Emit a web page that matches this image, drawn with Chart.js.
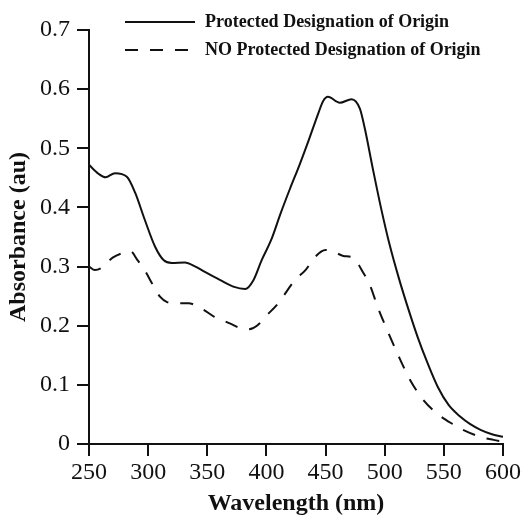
<!DOCTYPE html>
<html>
<head>
<meta charset="utf-8">
<script src="https://cdn.jsdelivr.net/npm/chart.js@4"></script>
<style>
  html, body { margin: 0; padding: 0; background: #fff; }
  #wrap { width: 523px; height: 516px; }
</style>
</head>
<body>
<div id="wrap"><canvas id="c" width="523" height="516"></canvas></div>
<script>
// legend labels
var seriesNames = ['Protected Designation of Origin', 'NO Protected Designation of Origin'];

// solid curve (PDO): wavelength nm / absorbance
var pdoNm  = [250, 258, 264, 272, 282, 289, 297, 306, 313, 320, 331, 340, 348, 361, 372, 382, 389, 396, 404, 412, 420, 428, 436, 444, 448, 452, 462, 472, 479, 483, 490, 497, 504, 512, 520, 528, 536, 545, 554, 564, 572, 581, 590, 600];
var pdoAbs = [0.472, 0.457, 0.451, 0.458, 0.452, 0.425, 0.38, 0.333, 0.311, 0.306, 0.307, 0.300, 0.291, 0.277, 0.266, 0.262, 0.277, 0.311, 0.345, 0.39, 0.432, 0.472, 0.515, 0.560, 0.580, 0.587, 0.577, 0.583, 0.567, 0.535, 0.465, 0.398, 0.338, 0.280, 0.228, 0.180, 0.138, 0.096, 0.066, 0.046, 0.034, 0.024, 0.017, 0.012];

// dashed curve (no PDO)
var noPdoNm  = [250, 255, 260, 270, 280, 285, 291, 297, 304, 310, 316, 323, 334, 346, 356, 369, 379, 385, 392, 399, 410, 424, 433, 441, 450, 458, 465, 473, 482, 488, 494, 502, 513, 521, 532, 544, 558, 566, 581, 592, 600];
var noPdoAbs = [0.300, 0.294, 0.297, 0.315, 0.324, 0.326, 0.311, 0.294, 0.269, 0.249, 0.240, 0.238, 0.238, 0.228, 0.215, 0.204, 0.195, 0.194, 0.200, 0.215, 0.238, 0.277, 0.294, 0.316, 0.328, 0.324, 0.318, 0.315, 0.289, 0.266, 0.232, 0.193, 0.143, 0.110, 0.076, 0.052, 0.033, 0.024, 0.012, 0.007, 0.004];

var axisFont = "'Liberation Serif', 'Times New Roman', serif";

function pts(xs, ys){
  return xs.map(function(x, i){ return { x: x, y: ys[i] }; });
}

// legend drawn in the top of the plot (two rows, line sample + bold text)
var topLegend = {
  id: 'topLegend',
  afterDraw: function(chart){
    var ctx = chart.ctx;
    var rows = [22, 50];
    ctx.save();
    chart.data.datasets.forEach(function(ds, i){
      var y = rows[i];
      ctx.strokeStyle = '#111';
      ctx.lineWidth = 2;
      ctx.setLineDash(ds.borderDash || []);
      ctx.beginPath();
      ctx.moveTo(125, y);
      ctx.lineTo(195, y);
      ctx.stroke();
      ctx.setLineDash([]);
      ctx.fillStyle = '#111';
      ctx.font = 'bold 18px ' + axisFont;
      ctx.textBaseline = 'middle';
      ctx.textAlign = 'left';
      ctx.fillText(ds.label, 205, y);
    });
    ctx.restore();
  }
};

new Chart(document.getElementById('c'), {
  type: 'line',
  data: {
    datasets: [
      {
        label: seriesNames[0],
        data: pts(pdoNm, pdoAbs),
        borderColor: '#111',
        borderWidth: 2,
        pointRadius: 0,
        cubicInterpolationMode: 'monotone',
        fill: false
      },
      {
        label: seriesNames[1],
        data: pts(noPdoNm, noPdoAbs),
        borderColor: '#111',
        borderWidth: 2,
        borderDash: [13, 12],
        pointRadius: 0,
        cubicInterpolationMode: 'monotone',
        fill: false
      }
    ]
  },
  options: {
    responsive: false,
    animation: false,
    layout: { padding: { top: 30, right: 20, left: 0, bottom: 0 } },
    plugins: {
      legend: { display: false },
      tooltip: { enabled: false }
    },
    scales: {
      x: {
        type: 'linear',
        min: 250,
        max: 600,
        afterFit: function(s){ s.height = 72; },
        ticks: { stepSize: 50, color: '#111', padding: 2, font: { family: axisFont, size: 24 } },
        grid: { drawOnChartArea: false, drawTicks: true, tickLength: 12, color: '#111', lineWidth: 2 },
        border: { color: '#111', width: 2 },
        title: { display: true, text: 'Wavelength (nm)', color: '#111', padding: 0,
                 font: { family: axisFont, size: 24, weight: 'bold', lineHeight: 1 } }
      },
      y: {
        min: 0,
        max: 0.7,
        afterFit: function(s){ s.width = 89; },
        ticks: {
          stepSize: 0.1, color: '#111', padding: 7,
          font: { family: axisFont, size: 24 },
          callback: function(v){ return v === 0 ? '0' : v.toFixed(1); }
        },
        grid: { drawOnChartArea: false, drawTicks: true, tickLength: 12, color: '#111', lineWidth: 2 },
        border: { color: '#111', width: 2 },
        title: { display: true, text: 'Absorbance (au)', color: '#111', padding: 4,
                 font: { family: axisFont, size: 24, weight: 'bold', lineHeight: 1.2 } }
      }
    }
  },
  plugins: [topLegend]
});
</script>
</body>
</html>
